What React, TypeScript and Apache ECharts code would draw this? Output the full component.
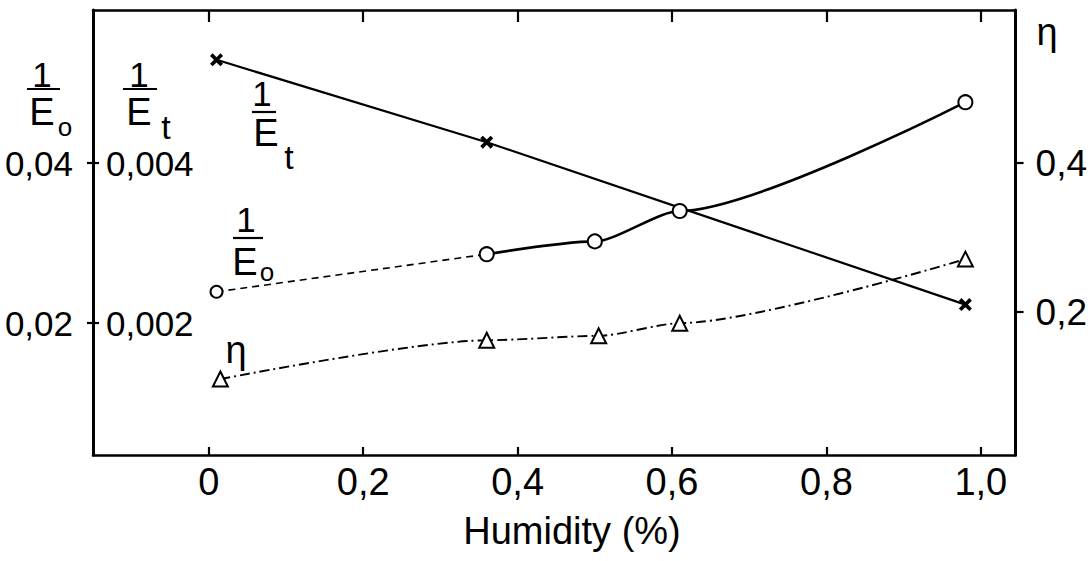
import React, { useEffect, useRef } from "react";
import * as echarts from "echarts";

// ---- data ----
const humidityEt = [0.01, 0.36, 0.98];
const invEt = [0.00529, 0.00426, 0.00223];

const humidityEo = [0.01, 0.36, 0.5, 0.61, 0.98];
const invEo = [0.0239, 0.0286, 0.0302, 0.034, 0.0476];

const humidityEta = [0.015, 0.36, 0.505, 0.61, 0.98];
const eta = [0.11, 0.162, 0.168, 0.185, 0.271];

const xTicks = [0, 0.2, 0.4, 0.6, 0.8, 1.0];
const eoTicks = [0.02, 0.04];
const etTicks = [0.002, 0.004];
const etaTicks = [0.2, 0.4];

const FONT = '"Liberation Sans", Arial, sans-serif';
const comma = (v: number, d: number) => (v === 0 ? "0" : v.toFixed(d).replace(".", ","));
const pairs = (xs: number[], ys: number[]) => xs.map((x, i) => [x, ys[i]]);

const X_SYMBOL =
  "path://M2,0 L5,3 L8,0 L10,2 L7,5 L10,8 L8,10 L5,7 L2,10 L0,8 L3,5 L0,2 Z";

export default function App() {
  const ref = useRef<HTMLDivElement>(null);
  useEffect(() => {
    if (!ref.current) return;
    const chart = echarts.init(ref.current, undefined, { renderer: "svg" });
    const eoData = pairs(humidityEo, invEo);
    const txt = (text: string, x: number, y: number, size: number) => ({
      type: "text",
      style: {
        text,
        x,
        y,
        font: `${size}px ${FONT}`,
        fill: "#000",
        align: "center",
        verticalAlign: "middle",
      },
    });
    const bar = (x1: number, x2: number, y: number) => ({
      type: "line",
      shape: { x1, y1: y, x2, y2: y },
      style: { stroke: "#000", lineWidth: 2.2 },
    });
    const labelStyle = (size: number, margin: number) => ({
      fontSize: size,
      fontFamily: FONT,
      color: "#000",
      margin,
    });
    chart.setOption({
      animation: false,
      backgroundColor: "#fff",
      grid: { left: 93, right: 72, top: 10, bottom: 106, containLabel: false },
      xAxis: [
        {
          type: "value",
          min: -0.15,
          max: 1.045,
          position: "bottom",
          axisLine: { onZero: false, lineStyle: { color: "#000", width: 2.5 } },
          axisTick: { inside: true, length: 8, customValues: xTicks, lineStyle: { color: "#000", width: 2.2 } },
          axisLabel: {
            customValues: xTicks,
            formatter: (v: number) => comma(v, 1),
            ...labelStyle(38, 8),
          },
          splitLine: { show: false },
        },
        {
          type: "value",
          min: -0.15,
          max: 1.045,
          position: "top",
          axisLine: { onZero: false, lineStyle: { color: "#000", width: 2.5 } },
          axisTick: { inside: true, length: 12, customValues: xTicks, lineStyle: { color: "#000", width: 2.2 } },
          axisLabel: { show: false },
          splitLine: { show: false },
        },
      ],
      yAxis: [
        {
          type: "value",
          min: 0.0035,
          max: 0.059125,
          position: "left",
          axisLine: { onZero: false, lineStyle: { color: "#000", width: 3 } },
          axisTick: { length: 6, customValues: eoTicks, lineStyle: { color: "#000", width: 2.2 } },
          axisLabel: {
            customValues: eoTicks,
            formatter: (v: number) => comma(v, 2),
            ...labelStyle(35, 20),
          },
          splitLine: { show: false },
        },
        {
          type: "value",
          min: 0.00035,
          max: 0.0059125,
          position: "left",
          axisLine: { show: false, onZero: false },
          axisTick: { inside: true, length: 6, customValues: etTicks, lineStyle: { color: "#000", width: 2.2 } },
          axisLabel: {
            inside: true,
            customValues: etTicks,
            formatter: (v: number) => comma(v, 3),
            ...labelStyle(35, 13),
          },
          splitLine: { show: false },
        },
        {
          type: "value",
          min: 0.00805,
          max: 0.6054,
          position: "right",
          axisLine: { onZero: false, lineStyle: { color: "#000", width: 3 } },
          axisTick: { length: 8, customValues: etaTicks, lineStyle: { color: "#000", width: 2.2 } },
          axisLabel: {
            customValues: etaTicks,
            formatter: (v: number) => comma(v, 1),
            ...labelStyle(37, 20),
          },
          splitLine: { show: false },
        },
      ],
      series: [
        {
          name: "1/Et",
          type: "line",
          xAxisIndex: 0,
          yAxisIndex: 1,
          data: pairs(humidityEt, invEt),
          symbol: X_SYMBOL,
          symbolSize: 13,
          itemStyle: { color: "#000" },
          lineStyle: { color: "#000", width: 2.2 },
          z: 3,
        },
        {
          name: "1/Eo (low)",
          type: "line",
          xAxisIndex: 0,
          yAxisIndex: 0,
          data: eoData.slice(0, 2),
          symbol: "emptyCircle",
          symbolSize: 12,
          itemStyle: { color: "#000", borderWidth: 3 },
          lineStyle: { color: "#000", width: 1.6, type: [7, 5] },
          z: 3,
        },
        {
          name: "1/Eo",
          type: "line",
          xAxisIndex: 0,
          yAxisIndex: 0,
          data: eoData.slice(1),
          smooth: 0.25,
          smoothMonotone: "x",
          symbol: "emptyCircle",
          symbolSize: 14,
          itemStyle: { color: "#000", borderWidth: 3 },
          lineStyle: { color: "#000", width: 2.6 },
          z: 4,
        },
        {
          name: "eta",
          type: "line",
          xAxisIndex: 0,
          yAxisIndex: 2,
          data: pairs(humidityEta, eta),
          smooth: 0.25,
          smoothMonotone: "x",
          symbol: "emptyTriangle",
          symbolSize: 15,
          itemStyle: { color: "#000", borderWidth: 3 },
          lineStyle: { color: "#000", width: 1.9, type: [10, 4, 2, 4] },
          z: 3,
        },
      ],
      graphic: [
        // left outer axis title 1/Eo
        txt("1", 42, 74, 35),
        bar(27, 60, 89),
        txt("E", 42, 112, 38),
        txt("o", 65, 127, 26),
        // left inner axis title 1/Et
        txt("1", 139, 74, 35),
        bar(123, 157, 89),
        txt("E", 139, 112, 38),
        txt("t", 166, 127, 34),
        // curve label 1/Et
        txt("1", 262, 93, 35),
        bar(252, 276, 112),
        txt("E", 266, 133, 38),
        txt("t", 289, 157, 34),
        // curve label 1/Eo
        txt("1", 246, 219, 35),
        bar(233, 263, 238),
        txt("E", 245, 262, 38),
        txt("o", 267, 272, 26),
        // eta labels
        txt("η", 236, 350, 38),
        txt("η", 1047, 32, 38),
        // x-axis title
        txt("Humidity (%)", 572, 531, 38),
      ],
    });
    return () => chart.dispose();
  }, []);
  return (
    <div
      ref={ref}
      style={{ position: "fixed", left: 0, top: 0, width: 1090, height: 561, background: "#fff" }}
    />
  );
}
